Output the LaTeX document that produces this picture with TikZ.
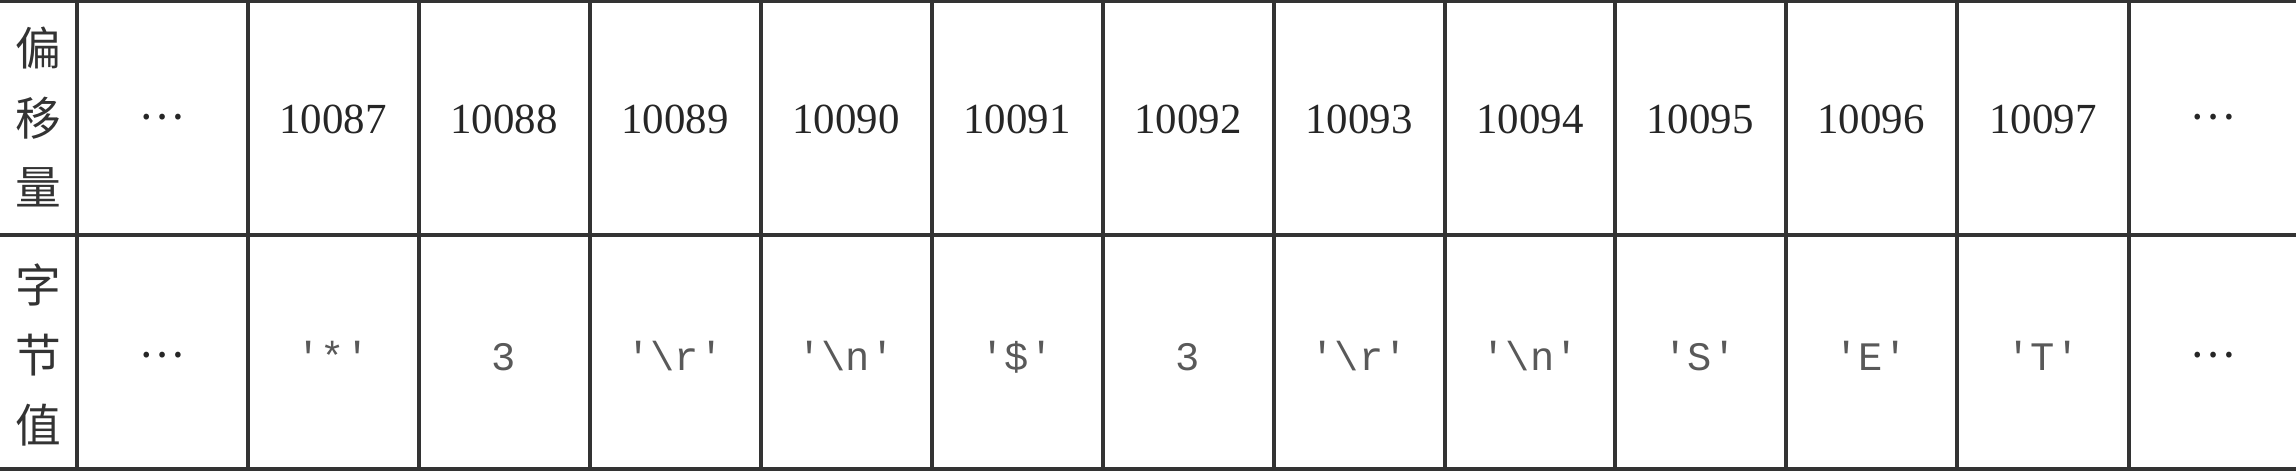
\documentclass[tikz,border=0pt]{standalone}
\usepackage{fontspec}
\setmainfont{Liberation Serif}
\setmonofont{Liberation Mono}
\newfontfamily\cjk{Noto Sans CJK SC}

\begin{document}
\begin{tikzpicture}[x=0.01cm,y=0.01cm,
  rule/.style={line width=0.9pt,draw=black!80},
  head/.style={align=center,inner sep=0pt,text=black!80,
    font=\cjk\fontsize{13}{19.8}\selectfont},
  num/.style={anchor=base,inner sep=0pt,text=black!85,
    font=\fontsize{12.2}{14}\selectfont},
  byte/.style={anchor=base,inner sep=0pt,text=black!65,
    font=\ttfamily\fontsize{11.5}{14}\selectfont},
  more/.style={anchor=center,inner sep=0pt,text=black!85,
    font=\cjk\fontsize{12}{14}\selectfont}]
  \useasboundingbox (0,0) rectangle (2296,472);

  \coordinate (tl) at (0,471);
  \coordinate (tr) at (2296,471);
  \coordinate (ml) at (0,237);
  \coordinate (mr) at (2296,237);
  \coordinate (bl) at (0,3);
  \coordinate (br) at (2296,3);

  % rows
  \draw[rule] (tl) -- (tr);
  \draw[rule] (ml) -- (mr);
  \draw[rule] (bl) -- (br);

  % columns
  \draw[rule] (77,3) -- (77,471);
  \draw[rule] (248,3) -- (248,471);
  \draw[rule] (419,3) -- (419,471);
  \draw[rule] (590,3) -- (590,471);
  \draw[rule] (761,3) -- (761,471);
  \draw[rule] (932,3) -- (932,471);
  \draw[rule] (1103,3) -- (1103,471);
  \draw[rule] (1274,3) -- (1274,471);
  \draw[rule] (1445,3) -- (1445,471);
  \draw[rule] (1615,3) -- (1615,471);
  \draw[rule] (1786,3) -- (1786,471);
  \draw[rule] (1957,3) -- (1957,471);
  \draw[rule] (2129,3) -- (2129,471);

  \node[head] (offlab) at (38,355) {偏\\移\\量};
  \node[head] (bytelab) at (38,117) {字\\节\\值};

  % offsets
  \node[more] (o0) at (162,355) {⋯};
  \node[num] (o1) at (333,339) {10087};
  \node[num] (o2) at (504,339) {10088};
  \node[num] (o3) at (675,339) {10089};
  \node[num] (o4) at (846,339) {10090};
  \node[num] (o5) at (1017,339) {10091};
  \node[num] (o6) at (1188,339) {10092};
  \node[num] (o7) at (1359,339) {10093};
  \node[num] (o8) at (1530,339) {10094};
  \node[num] (o9) at (1700,339) {10095};
  \node[num] (o10) at (1871,339) {10096};
  \node[num] (o11) at (2043,339) {10097};
  \node[more] (o12) at (2213,355) {⋯};

  % byte values
  \node[more] (v0) at (162,117) {⋯};
  \node[byte] (v1) at (333,102) {'*'};
  \node[byte] (v2) at (504,102) {3};
  \node[byte] (v3) at (675,102) {'\textbackslash r'};
  \node[byte] (v4) at (846,102) {'\textbackslash n'};
  \node[byte] (v5) at (1017,102) {'\$'};
  \node[byte] (v6) at (1188,102) {3};
  \node[byte] (v7) at (1359,102) {'\textbackslash r'};
  \node[byte] (v8) at (1530,102) {'\textbackslash n'};
  \node[byte] (v9) at (1700,102) {'S'};
  \node[byte] (v10) at (1871,102) {'E'};
  \node[byte] (v11) at (2043,102) {'T'};
  \node[more] (v12) at (2213,117) {⋯};
\end{tikzpicture}
\end{document}
